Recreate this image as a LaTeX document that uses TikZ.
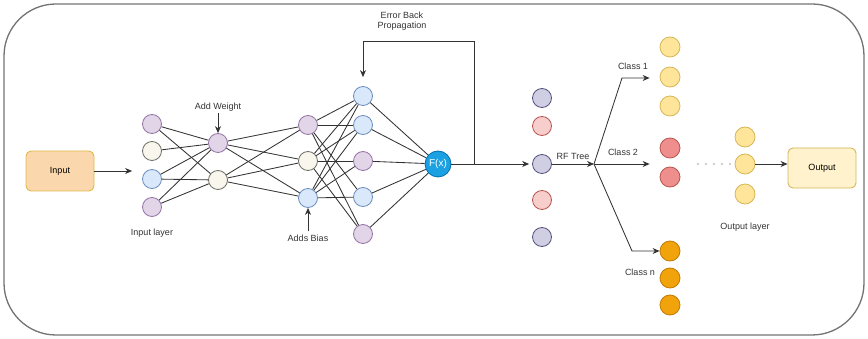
\documentclass[tikz,border=0pt]{standalone}
\usepackage{fontspec}
\setmainfont{Liberation Sans}
\usetikzlibrary{arrows.meta}
\definecolor{pF}{HTML}{E1D5E7}\definecolor{pD}{HTML}{9673A6}
\definecolor{cF}{HTML}{F9F7ED}\definecolor{cD}{HTML}{6E6F66}
\definecolor{bF}{HTML}{DAE8FC}\definecolor{bD}{HTML}{6C8EBF}
\definecolor{fxF}{HTML}{1BA1E2}\definecolor{fxD}{HTML}{006EAF}
\definecolor{rpF}{HTML}{D0CEE2}\definecolor{rpD}{HTML}{56517E}
\definecolor{pkF}{HTML}{F8CECC}\definecolor{pkD}{HTML}{B85450}
\definecolor{yF}{HTML}{FFE599}\definecolor{yD}{HTML}{D6B656}
\definecolor{rF}{HTML}{EE8F8D}\definecolor{rD}{HTML}{B85450}
\definecolor{oF}{HTML}{F0A30A}\definecolor{oD}{HTML}{C47A00}
\definecolor{inF}{HTML}{FAD7AC}\definecolor{inD}{HTML}{E0B94A}
\definecolor{outF}{HTML}{FFF2CC}\definecolor{outD}{HTML}{D6B656}
\definecolor{lnC}{HTML}{333333}
\begin{document}
\begin{tikzpicture}[x=1pt,y=-1pt,
  font=\fontsize{9}{10.5}\selectfont,
  neuron/.style={circle,minimum size=19pt,inner sep=0pt,line width=0.8pt},
  npurple/.style={neuron,fill=pF,draw=pD},
  ncream/.style={neuron,fill=cF,draw=cD},
  nblue/.style={neuron,fill=bF,draw=bD},
  nrp/.style={neuron,fill=rpF,draw=rpD},
  npk/.style={neuron,fill=pkF,draw=pkD},
  nyel/.style={neuron,minimum size=20pt,fill=yF,draw=yD},
  nred/.style={neuron,minimum size=20pt,fill=rF,draw=rD},
  norg/.style={neuron,minimum size=20pt,fill=oF,draw=oD},
  box/.style={rectangle,rounded corners=5pt,line width=0.9pt,minimum width=68pt,minimum height=40pt},
  edge/.style={draw=lnC,line width=0.85pt},
  arr/.style={edge,-{Stealth[length=7pt,width=6pt]}},
  lbl/.style={text=black!80,inner sep=0pt}
]
\useasboundingbox (0,0) rectangle (868,339);
\draw[rounded corners=52pt,draw=black!55,line width=1.3pt] (4,4) rectangle (864,335);

% input box
\node[box,fill=inF,draw=inD] (in) at (60,171) {Input};

% input layer
\node[npurple] (i1) at (152,124) {};
\node[ncream]  (i2) at (152,151) {};
\node[nblue]   (i3) at (152,179) {};
\node[npurple] (i4) at (152,207) {};
\node[lbl] (lin) at (152,233) {Input layer};

% hidden 1
\node[npurple] (a1) at (218,143) {};
\node[ncream]  (a2) at (218,180) {};
\node[lbl] (law) at (218,107) {Add Weight};

% hidden 2
\node[npurple] (b1) at (308,125) {};
\node[ncream]  (b2) at (308,161) {};
\node[nblue]   (b3) at (308,198) {};
\node[lbl] (lab) at (308,238) {Adds Bias};

% hidden 3
\node[nblue]   (c1) at (363,96) {};
\node[nblue]   (c2) at (363,125) {};
\node[npurple] (c3) at (363,161) {};
\node[nblue]   (c4) at (363,197) {};
\node[npurple] (c5) at (363,234) {};

% F(x)
\node[circle,minimum size=26pt,inner sep=0pt,fill=fxF,draw=fxD,line width=0.8pt,text=white,font=\fontsize{10}{12}\selectfont] (fx) at (438,164) {F(x)};

\node[lbl,align=center] (lebp) at (402,21) {Error Back\\Propagation};

% RF column
\node[nrp] (r1) at (542,98) {};
\node[npk] (r2) at (542,126) {};
\node[nrp] (r3) at (542,164) {};
\node[npk] (r4) at (542,200) {};
\node[nrp] (r5) at (542,237) {};

% class columns
\node[nyel] (y1) at (670,47) {};
\node[nyel] (y2) at (670,77) {};
\node[nyel] (y3) at (670,106) {};
\node[nred] (d1) at (670,148) {};
\node[nred] (d2) at (670,177) {};
\node[norg] (o1) at (670,251) {};
\node[norg] (o2) at (670,278) {};
\node[norg] (o3) at (670,305) {};

% output layer
\node[nyel] (q1) at (745,137) {};
\node[nyel] (q2) at (745,164) {};
\node[nyel] (q3) at (745,194) {};
\node[lbl] (lol) at (745,227) {Output layer};

\node[box,fill=outF,draw=outD] (out) at (822,168) {Output};

% connections
\foreach \s/\t in {i1/a1,i1/a2,i2/a1,i3/a1,i3/a2,i4/a1,i4/a2}
  \draw[edge] (\s) -- (\t);
\foreach \s in {a1,a2}
  \foreach \t in {b1,b2,b3}
    \draw[edge] (\s) -- (\t);
\foreach \s/\t in {b1/c1,b1/c2,b1/c4,b1/c5,b2/c1,b2/c2,b2/c3,b2/c5,b3/c1,b3/c2,b3/c3,b3/c4}
  \draw[edge] (\s) -- (\t);
\foreach \s in {c1,c2,c3,c4,c5}
  \draw[edge] (\s) -- (fx);

% arrows
\draw[arr,shorten >=10pt] (in.east) -- (in.east -| i1.west);
\draw[arr] (law.south) ++(0,2) coordinate (awA) -- (a1.north);
\draw[arr] (lab.north) ++(0,-3) coordinate (abA) -- (b3.south);

% feedback
\coordinate (bp) at (474,164);
\coordinate (fbA) at (474,41);
\coordinate (fbB) at (363,41);
\draw[arr,shorten >=3pt] (fx.east) -- (r3.west);
\draw[arr,shorten >=9pt] (bp) -- (fbA) -- (fbB) -- (c1.north);

% RF tree
\coordinate (rfb) at (594,164);
\draw[arr] (r3.east) -- node[lbl,above=4pt,pos=0.5] (lrf) {RF Tree} (rfb);
\coordinate (k1) at (622,78);
\coordinate (kn) at (632,251);
\draw[arr,shorten >=10pt] (rfb) -- (k1) -- (k1 -| y2.west);
\draw[arr,shorten >=10pt] (rfb) -- (rfb -| d1.west);
\draw[arr] (rfb) -- (kn) -- (o1.west);
\node[lbl] (lc1) at (633,66) {Class 1};
\node[lbl] (lc2) at (623,152) {Class 2};
\node[lbl] (lcn) at (640,272) {Class n};

% dots
\coordinate (dA) at (698,164);
\coordinate (dB) at (731,164);
\draw[draw=lnC,line width=1.4pt,line cap=round,dash pattern=on 0pt off 8pt] (dA) -- (dB);

\draw[arr] (q2.east) -- (q2.east -| out.west);
\end{tikzpicture}
\end{document}
